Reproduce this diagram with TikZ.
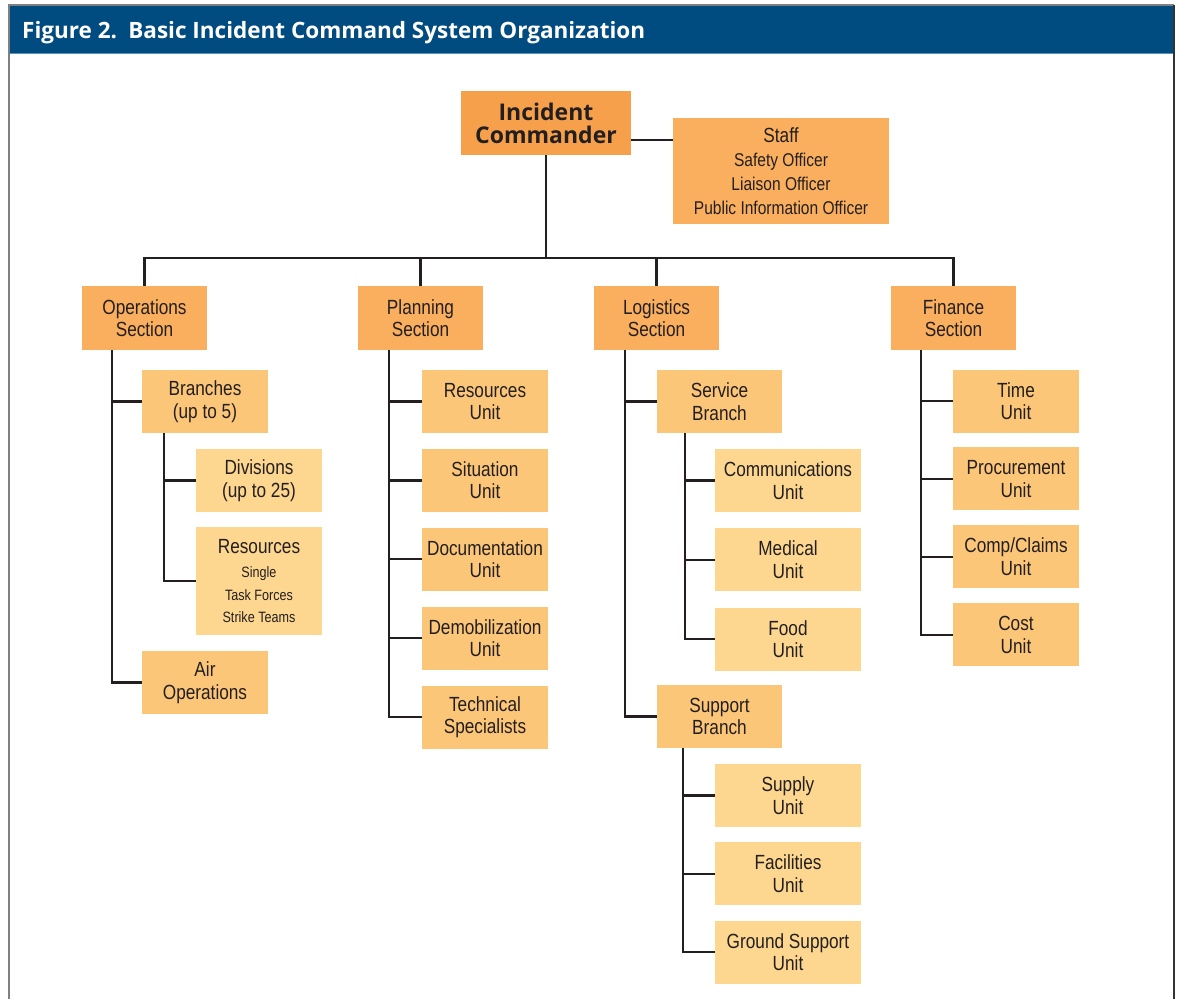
\documentclass[tikz,border=0pt]{standalone}
\usepackage{fontspec}
\setmainfont{Liberation Sans}[FakeStretch=0.84]
\newfontfamily\headfont{Open Sans}
\usetikzlibrary{positioning}

\definecolor{icsblue}{HTML}{004B80}
\definecolor{icsrule}{HTML}{5E8FBA}
\definecolor{cmdorange}{HTML}{F6A04B}
\definecolor{secorange}{HTML}{F9AF5E}
\definecolor{unitorange}{HTML}{FCC679}
\definecolor{suborange}{HTML}{FDD78F}
\definecolor{inkline}{HTML}{231F20}

\begin{document}
\begin{tikzpicture}[x=1pt, y=-1pt,
        box/.style={rectangle, inner sep=0pt, align=center, text=inkline,
            font=\fontsize{20.5}{22.5}\selectfont},
        sectionbox/.style={box, fill=secorange, minimum width=125pt, minimum height=64pt},
        unitbox/.style={box, fill=unitorange, minimum width=126pt, minimum height=63pt},
        subbox/.style={box, fill=suborange, minimum width=146pt, minimum height=63pt},
        link/.style={draw=inkline, line width=2.2pt}]
        \useasboundingbox (0,0) rectangle (1178,999);

        % frame and heading
        \fill[icsblue] (10,6) rectangle (1174,54);
        \draw[icsrule, line width=1pt] (10,53.5) -- (1174,53.5);
        \draw[gray, line width=1.6pt] (9,999) -- (9,5) -- (1174,5);
        \draw[black!80, line width=1.6pt] (1174,5) -- (1174,999);
        \node[anchor=base west, inner sep=0pt, text=white,
            font=\headfont\bfseries\fontsize{22.5}{26}\selectfont] (title) at (22,38.5)
            {Figure 2.\enspace Basic Incident Command System Organization};

        % command
        \node[box, fill=cmdorange, minimum width=170pt, minimum height=64pt,
            font=\headfont\bfseries\fontsize{23}{23}\selectfont] (ic) at (546,123) {Incident\\Commander};
        \node[box, fill=secorange, minimum width=216pt, minimum height=106pt,
            font=\fontsize{18.5}{24}\selectfont] (staff) at (781,171)
            {{\fontsize{20.5}{24}\selectfont Staff}\\Safety Officer\\Liaison Officer\\Public Information Officer};

        % sections
        \node[sectionbox] (ops) at (144.5,318) {Operations\\Section};
        \node[sectionbox] (plan) at (420.5,318) {Planning\\Section};
        \node[sectionbox] (logi) at (656.5,318) {Logistics\\Section};
        \node[sectionbox] (fin) at (953.5,318) {Finance\\Section};

        % operations
        \node[unitbox] (branches) at (205,401.5) {Branches\\(up to 5)};
        \node[subbox, minimum width=126pt] (divisions) at (259,480.5) {Divisions\\(up to 25)};
        \node[subbox, minimum width=126pt, minimum height=108pt,
            font=\fontsize{15}{22.5}\selectfont] (resources) at (259,581)
            {{\fontsize{20.5}{22.5}\selectfont Resources}\\[2pt]Single\\Task Forces\\Strike Teams};
        \node[unitbox] (airops) at (205,682.5) {Air\\Operations};

        % planning
        \node[unitbox] (resunit) at (485,401.5) {Resources\\Unit};
        \node[unitbox, below=15.5pt of resunit] (situnit) {Situation\\Unit};
        \node[unitbox, below=15.5pt of situnit] (docunit) {Documentation\\Unit};
        \node[unitbox, below=15.5pt of docunit] (demobunit) {Demobilization\\Unit};
        \node[unitbox, below=15.5pt of demobunit] (techspec) {Technical\\Specialists};

        % logistics
        \node[unitbox, minimum width=125pt] (service) at (719.5,401.5) {Service\\Branch};
        \node[subbox] (comms) at (788,480.5) {Communications\\Unit};
        \node[subbox, below=16pt of comms] (medical) {Medical\\Unit};
        \node[subbox, below=16pt of medical] (food) {Food\\Unit};
        \node[unitbox, minimum width=125pt] (support) at (719.5,716.5) {Support\\Branch};
        \node[subbox] (supply) at (788,795.5) {Supply\\Unit};
        \node[subbox, below=15pt of supply] (facilities) {Facilities\\Unit};
        \node[subbox, below=15pt of facilities] (ground) {Ground Support\\Unit};

        % finance
        \node[unitbox] (time) at (1016,401) {Time\\Unit};
        \node[unitbox, below=14.5pt of time] (procure) {Procurement\\Unit};
        \node[unitbox, below=14.5pt of procure] (claims) {Comp/Claims\\Unit};
        \node[unitbox, below=14.5pt of claims] (cost) {Cost\\Unit};

        % connectors
        \coordinate (bus) at (546,258);
        \draw[link] ([yshift=-17pt]ic.east) -- ([yshift=-17pt]ic.east -| staff.west);
        \draw[link] (ic.south) -- (bus);
        \draw[link] (ops.north) -- (ops.north |- bus) -- (fin.north |- bus) -- (fin.north);
        \draw[link] (plan.north) -- (plan.north |- bus);
        \draw[link] (logi.north) -- (logi.north |- bus);

        \draw[link] ([xshift=-32.5pt]ops.south) |- (airops.west);
        \draw[link] ([xshift=-32.5pt]ops.south) |- (branches.west);
        \draw[link] ([xshift=-41pt]branches.south) |- (resources.west);
        \draw[link] ([xshift=-41pt]branches.south) |- (divisions.west);

        \draw[link] ([xshift=-31.5pt]plan.south) |- (techspec.west);
        \draw[link] ([xshift=-31.5pt]plan.south) |- (resunit.west);
        \draw[link] ([xshift=-31.5pt]plan.south) |- (situnit.west);
        \draw[link] ([xshift=-31.5pt]plan.south) |- (docunit.west);
        \draw[link] ([xshift=-31.5pt]plan.south) |- (demobunit.west);

        \draw[link] ([xshift=-31.5pt]logi.south) |- (support.west);
        \draw[link] ([xshift=-31.5pt]logi.south) |- (service.west);
        \draw[link] ([xshift=-34.5pt]service.south) |- (food.west);
        \draw[link] ([xshift=-34.5pt]service.south) |- (comms.west);
        \draw[link] ([xshift=-34.5pt]service.south) |- (medical.west);
        \draw[link] ([xshift=-36.5pt]support.south) |- (ground.west);
        \draw[link] ([xshift=-36.5pt]support.south) |- (supply.west);
        \draw[link] ([xshift=-36.5pt]support.south) |- (facilities.west);

        \draw[link] ([xshift=-32.5pt]fin.south) |- (cost.west);
        \draw[link] ([xshift=-32.5pt]fin.south) |- (time.west);
        \draw[link] ([xshift=-32.5pt]fin.south) |- (procure.west);
        \draw[link] ([xshift=-32.5pt]fin.south) |- (claims.west);
    \end{tikzpicture}
\end{document}
